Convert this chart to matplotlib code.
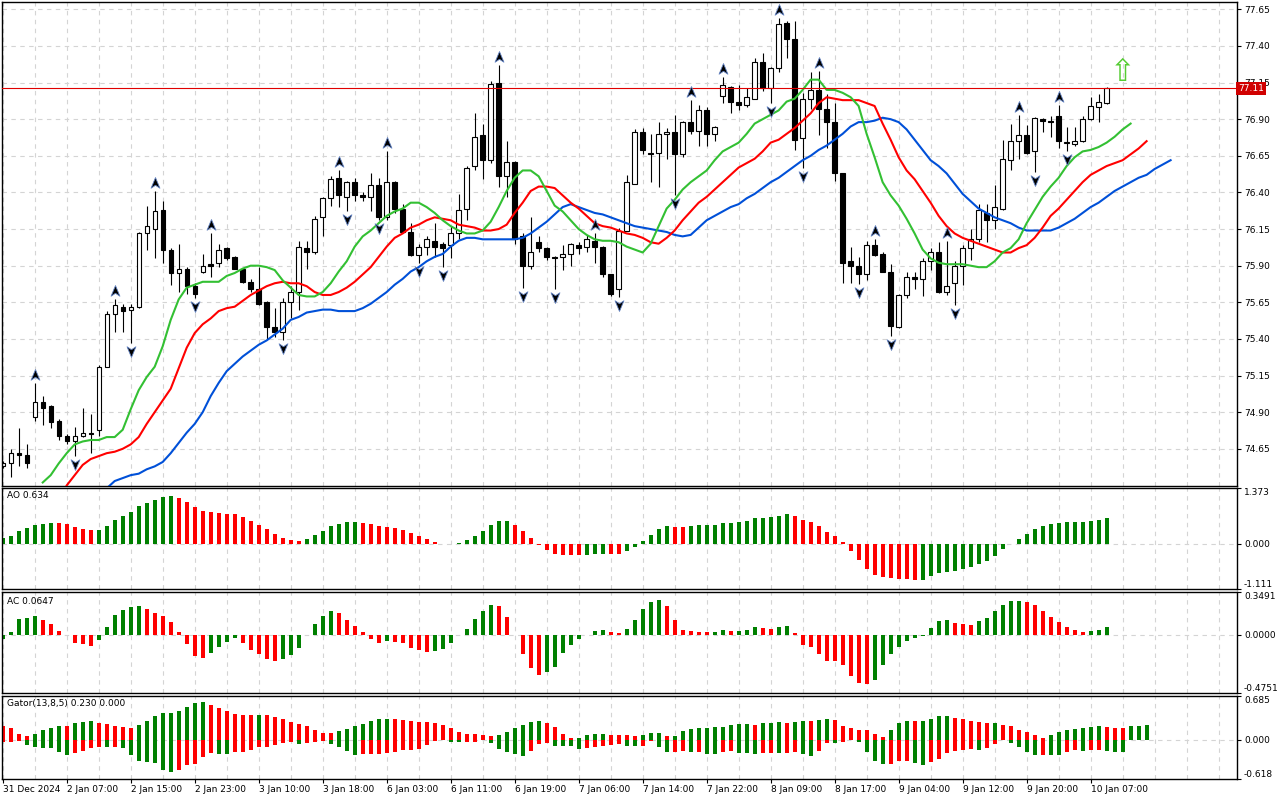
import numpy as np
import matplotlib
matplotlib.use("Agg")
import matplotlib.pyplot as plt
from matplotlib.path import Path
from matplotlib.transforms import offset_copy, blended_transform_factory

# ---------------- data (hourly candles) ----------------
opens = [74.53, 74.55, 74.62, 74.61, 74.87, 74.97, 74.94, 74.84, 74.74, 74.70,
         74.74, 74.76, 74.78, 75.21, 75.57, 75.62, 75.60, 75.62, 76.12, 76.15,
         76.28, 76.01, 75.85, 75.88, 75.76, 75.86, 75.91, 75.92, 76.02, 75.96,
         75.88, 75.79, 75.74, 75.65, 75.48, 75.45, 75.65, 75.72, 76.02, 75.99,
         76.23, 76.36, 76.50, 76.37, 76.47, 76.38, 76.37, 76.45, 76.23, 76.47,
         76.29, 76.13, 75.97, 76.03, 76.07, 76.05, 76.04, 76.12, 76.29, 76.58,
         76.79, 76.62, 77.15, 76.51, 76.61, 76.10, 75.90, 76.06, 76.02, 75.96,
         75.96, 75.98, 76.04, 76.03, 76.07, 76.03, 75.84, 75.74, 76.14, 76.46,
         76.81, 76.67, 76.67, 76.80, 76.81, 76.66, 76.88, 76.82, 76.96, 76.80,
         77.06, 77.12, 77.02, 77.00, 77.04, 77.29, 77.11, 77.25, 77.56, 77.45,
         76.77, 77.04, 77.10, 76.97, 76.88, 76.53, 75.93, 75.90, 75.84, 76.04,
         75.98, 75.86, 75.48, 75.70, 75.82, 75.81, 75.93, 75.99, 75.72, 75.78,
         75.90, 76.02, 76.08, 76.26, 76.21, 76.29, 76.62, 76.75, 76.79, 76.68,
         76.90, 76.89, 76.92, 76.74, 76.73, 76.75, 76.90, 76.98, 77.01]
highs = [74.57, 74.65, 74.79, 74.68, 75.10, 75.01, 74.95, 74.85, 74.75, 74.80,
         74.93, 74.89, 75.22, 75.59, 75.67, 75.64, 75.64, 76.13, 76.31, 76.41,
         76.34, 76.02, 76.05, 75.89, 75.78, 75.98, 76.12, 76.05, 76.03, 75.965,
         75.885, 75.81, 75.89, 75.66, 75.61, 75.68, 75.76, 76.07, 76.07, 76.24,
         76.37, 76.51, 76.55, 76.48, 76.50, 76.40, 76.53, 76.50, 76.68, 76.475,
         76.32, 76.19, 76.05, 76.10, 76.19, 76.06, 76.17, 76.39, 76.58, 76.94,
         76.87, 77.16, 77.27, 76.75, 76.615, 76.12, 76.23, 76.10, 76.025, 75.965,
         76.04, 76.055, 76.06, 76.11, 76.12, 76.035, 75.845, 76.16, 76.52, 76.83,
         76.84, 76.80, 76.88, 76.84, 76.93, 76.885, 77.03, 77.00, 76.98, 76.855,
         77.19, 77.125, 77.13, 77.11, 77.32, 77.35, 77.255, 77.59, 77.57, 77.57,
         77.08, 77.22, 77.23, 77.07, 77.01, 76.535, 76.03, 75.96, 76.07, 76.08,
         75.99, 75.91, 75.71, 75.86, 75.86, 75.95, 76.02, 76.06, 76.07, 75.93,
         76.04, 76.15, 76.32, 76.32, 76.45, 76.76, 76.87, 76.93, 76.86, 76.915,
         76.91, 76.92, 77.00, 76.85, 76.85, 76.92, 77.05, 77.07, 77.12]
lows = [74.52, 74.46, 74.53, 74.52, 74.84, 74.81, 74.79, 74.71, 74.68, 74.60,
        74.73, 74.62, 74.74, 75.21, 75.45, 75.45, 75.37, 75.61, 76.01, 75.95,
        75.92, 75.77, 75.72, 75.71, 75.68, 75.85, 75.82, 75.89, 75.94, 75.875,
        75.78, 75.72, 75.63, 75.40, 75.41, 75.39, 75.54, 75.60, 75.88, 75.98,
        76.10, 76.31, 76.30, 76.27, 76.34, 76.34, 76.27, 76.21, 76.21, 76.26,
        76.12, 75.965, 75.92, 75.97, 75.96, 75.89, 75.95, 76.08, 76.21, 76.55,
        76.49, 76.60, 76.44, 76.37, 76.05, 75.75, 75.88, 75.99, 75.94, 75.74,
        75.87, 75.90, 75.98, 75.99, 75.92, 75.82, 75.69, 75.685, 76.135, 76.455,
        76.66, 76.47, 76.44, 76.63, 76.38, 76.64, 76.80, 76.72, 76.72, 76.75,
        77.01, 76.94, 76.96, 76.98, 77.035, 77.09, 77.01, 77.22, 77.32, 76.69,
        76.565, 76.97, 76.79, 76.70, 76.48, 75.78, 75.78, 75.775, 75.80, 75.965,
        75.855, 75.42, 75.475, 75.68, 75.74, 75.69, 75.87, 75.715, 75.70, 75.63,
        75.77, 75.94, 76.06, 76.06, 76.15, 76.28, 76.55, 76.63, 76.665, 76.54,
        76.81, 76.78, 76.70, 76.68, 76.72, 76.745, 76.895, 76.88, 77.005]
closes = [74.55, 74.62, 74.61, 74.55, 74.97, 74.93, 74.83, 74.74, 74.70, 74.74,
          74.76, 74.75, 75.21, 75.57, 75.63, 75.59, 75.62, 76.12, 76.17, 76.27,
          76.01, 75.85, 75.88, 75.76, 75.71, 75.90, 75.90, 76.01, 75.95, 75.88,
          75.79, 75.74, 75.64, 75.48, 75.45, 75.65, 75.72, 76.03, 75.99, 76.22,
          76.36, 76.49, 76.38, 76.47, 76.38, 76.37, 76.45, 76.23, 76.47, 76.29,
          76.13, 75.97, 76.03, 76.08, 76.03, 76.02, 76.12, 76.28, 76.57, 76.78,
          76.62, 77.14, 76.51, 76.61, 76.08, 75.90, 75.99, 76.02, 75.96, 75.955,
          75.98, 76.05, 76.02, 76.08, 76.03, 75.84, 75.71, 76.14, 76.47, 76.81,
          76.69, 76.66, 76.80, 76.81, 76.66, 76.88, 76.82, 76.96, 76.80, 76.85,
          77.13, 77.02, 77.00, 77.05, 77.29, 77.11, 77.25, 77.55, 77.45, 76.76,
          77.04, 77.10, 76.97, 76.88, 76.53, 75.92, 75.90, 75.84, 76.04, 75.97,
          75.86, 75.49, 75.70, 75.82, 75.81, 75.93, 75.99, 75.72, 75.76, 75.90,
          76.02, 76.08, 76.28, 76.21, 76.30, 76.63, 76.75, 76.79, 76.67, 76.91,
          76.89, 76.88, 76.75, 76.745, 76.75, 76.90, 76.99, 77.02, 77.11]

# Alligator lines (already shifted forward), first bar index of each line
lips_start = 5
lips = [74.42, 74.47, 74.55, 74.62, 74.68, 74.70, 74.71, 74.71, 74.73, 74.73,
        74.78, 74.92, 75.05, 75.14, 75.21, 75.35, 75.53, 75.67, 75.75, 75.77,
        75.79, 75.79, 75.79, 75.83, 75.85, 75.88, 75.90, 75.90, 75.89, 75.87,
        75.80, 75.75, 75.70, 75.69, 75.69, 75.72, 75.78, 75.86, 75.93, 76.03,
        76.10, 76.14, 76.19, 76.24, 76.27, 76.29, 76.33, 76.33, 76.30, 76.26,
        76.21, 76.17, 76.14, 76.12, 76.12, 76.14, 76.20, 76.30, 76.41, 76.50,
        76.55, 76.55, 76.51, 76.41, 76.31, 76.27, 76.21, 76.15, 76.11, 76.08,
        76.07, 76.07, 76.06, 76.03, 76.01, 75.99, 76.05, 76.17, 76.29, 76.35,
        76.42, 76.47, 76.51, 76.55, 76.62, 76.68, 76.71, 76.74, 76.80, 76.87,
        76.90, 76.93, 76.96, 77.02, 77.04, 77.10, 77.17, 77.17, 77.10, 77.10,
        77.08, 77.05, 76.99, 76.80, 76.64, 76.47, 76.38, 76.31, 76.22, 76.12,
        76.01, 75.95, 75.92, 75.91, 75.91, 75.91, 75.90, 75.89, 75.89, 75.93,
        75.99, 76.02, 76.08, 76.19, 76.28, 76.37, 76.44, 76.50, 76.58, 76.64,
        76.68, 76.69, 76.71, 76.74, 76.78, 76.83, 76.87]
teeth_start = 8
teeth = [74.40, 74.47, 74.54, 74.58, 74.60, 74.62, 74.63, 74.65, 74.68, 74.73,
         74.82, 74.90, 74.98, 75.06, 75.20, 75.34, 75.44, 75.50, 75.54, 75.59,
         75.61, 75.62, 75.66, 75.70, 75.73, 75.76, 75.78, 75.79, 75.78, 75.78,
         75.76, 75.72, 75.70, 75.70, 75.72, 75.75, 75.79, 75.84, 75.89, 75.96,
         76.03, 76.09, 76.12, 76.16, 76.18, 76.21, 76.23, 76.22, 76.21, 76.18,
         76.17, 76.16, 76.14, 76.14, 76.15, 76.18, 76.26, 76.33, 76.41, 76.44,
         76.44, 76.43, 76.38, 76.33, 76.29, 76.24, 76.19, 76.17, 76.16, 76.14,
         76.12, 76.11, 76.09, 76.06, 76.05, 76.09, 76.14, 76.21, 76.27, 76.33,
         76.37, 76.42, 76.47, 76.52, 76.57, 76.60, 76.63, 76.68, 76.74, 76.76,
         76.80, 76.84, 76.89, 76.94, 77.01, 77.05, 77.04, 77.03, 77.03, 77.03,
         77.01, 76.99, 76.87, 76.76, 76.64, 76.55, 76.49, 76.41, 76.33, 76.24,
         76.17, 76.12, 76.09, 76.07, 76.05, 76.03, 76.01, 75.99, 75.99, 76.02,
         76.04, 76.09, 76.16, 76.24, 76.29, 76.35, 76.41, 76.47, 76.52, 76.55,
         76.58, 76.60, 76.62, 76.66, 76.70, 76.75]
jaw_start = 13
jaw = [74.38, 74.43, 74.45, 74.47, 74.48, 74.51, 74.53, 74.56, 74.62, 74.69,
       74.76, 74.82, 74.90, 75.01, 75.10, 75.18, 75.23, 75.28, 75.32, 75.36,
       75.39, 75.43, 75.47, 75.53, 75.55, 75.58, 75.59, 75.60, 75.60, 75.59,
       75.59, 75.59, 75.61, 75.64, 75.68, 75.72, 75.77, 75.81, 75.86, 75.89,
       75.93, 75.96, 75.98, 76.03, 76.07, 76.09, 76.09, 76.08, 76.08, 76.08,
       76.08, 76.08, 76.09, 76.12, 76.16, 76.20, 76.25, 76.30, 76.32, 76.30,
       76.28, 76.26, 76.25, 76.23, 76.21, 76.19, 76.17, 76.16, 76.15, 76.14,
       76.13, 76.11, 76.10, 76.11, 76.16, 76.21, 76.24, 76.27, 76.30, 76.32,
       76.36, 76.39, 76.43, 76.47, 76.50, 76.54, 76.58, 76.62, 76.65, 76.69,
       76.72, 76.76, 76.80, 76.85, 76.88, 76.88, 76.89, 76.91, 76.90, 76.88,
       76.83, 76.76, 76.69, 76.62, 76.58, 76.53, 76.46, 76.39, 76.34, 76.29,
       76.26, 76.23, 76.21, 76.19, 76.16, 76.14, 76.14, 76.14, 76.14, 76.16,
       76.19, 76.22, 76.26, 76.30, 76.33, 76.37, 76.41, 76.44, 76.47, 76.50,
       76.52, 76.56, 76.59, 76.62]

fractal_up = [4, 14, 19, 26, 42, 48, 62, 74, 86, 90, 97, 102, 109, 118, 127, 132]
fractal_down = [9, 16, 24, 35, 43, 47, 52, 55, 65, 69, 77, 84, 96, 100, 107,
                111, 119, 129, 133]
signal_index = 140
signal_price = 77.22
bid = 77.11

ao = [0.155, 0.195, 0.318, 0.399, 0.464, 0.489, 0.521, 0.515, 0.489, 0.415,
      0.375, 0.350, 0.352, 0.440, 0.595, 0.684, 0.790, 0.928, 1.002, 1.075,
      1.140, 1.165, 1.132, 1.034, 0.904, 0.814, 0.790, 0.757, 0.733, 0.725,
      0.668, 0.570, 0.464, 0.375, 0.252, 0.155, 0.106, 0.081, 0.122, 0.228,
      0.326, 0.440, 0.489, 0.538, 0.540, 0.513, 0.489, 0.440, 0.415, 0.399,
      0.342, 0.269, 0.195, 0.122, 0.049, 0.008, -0.008, 0.016, 0.098, 0.195,
      0.326, 0.464, 0.570, 0.572, 0.464, 0.318, 0.155, -0.041, -0.163, -0.261,
      -0.265, -0.285, -0.287, -0.284, -0.244, -0.240, -0.245, -0.248, -0.187, -0.073,
      0.073, 0.220, 0.366, 0.440, 0.415, 0.413, 0.440, 0.464, 0.466, 0.468,
      0.521, 0.523, 0.546, 0.570, 0.627, 0.629, 0.652, 0.676, 0.733, 0.684,
      0.595, 0.538, 0.440, 0.301, 0.195, 0.057, -0.187, -0.399, -0.611, -0.757,
      -0.814, -0.847, -0.871, -0.873, -0.900, -0.895, -0.798, -0.725, -0.692, -0.660,
      -0.611, -0.578, -0.497, -0.415, -0.293, -0.130, -0.008, 0.130, 0.244, 0.366,
      0.440, 0.489, 0.521, 0.538, 0.540, 0.542, 0.570, 0.595, 0.634]
ac = [-0.036, 0.025, 0.132, 0.137, 0.157, 0.124, 0.085, 0.033, -0.004, -0.063,
      -0.077, -0.088, -0.041, 0.066, 0.165, 0.206, 0.223, 0.231, 0.214, 0.181,
      0.157, 0.107, 0.025, -0.077, -0.170, -0.187, -0.146, -0.096, -0.055, -0.030,
      -0.063, -0.124, -0.154, -0.195, -0.212, -0.194, -0.162, -0.104, -0.003, 0.085,
      0.157, 0.190, 0.181, 0.124, 0.074, 0.019, -0.033, -0.063, -0.047, -0.058,
      -0.071, -0.104, -0.124, -0.137, -0.129, -0.113, -0.071, -0.003, 0.049, 0.132,
      0.190, 0.239, 0.237, 0.148, -0.003, -0.154, -0.269, -0.327, -0.302, -0.261,
      -0.146, -0.080, -0.038, -0.002, 0.033, 0.041, 0.025, 0.011, 0.049, 0.124,
      0.214, 0.264, 0.280, 0.231, 0.124, 0.041, 0.033, 0.025, 0.024, 0.026,
      0.041, 0.033, 0.034, 0.041, 0.066, 0.058, 0.049, 0.066, 0.074, 0.016,
      -0.080, -0.096, -0.154, -0.212, -0.213, -0.245, -0.335, -0.393, -0.401, -0.368,
      -0.245, -0.154, -0.096, -0.047, -0.030, -0.011, 0.058, 0.115, 0.124, 0.099,
      0.091, 0.082, 0.115, 0.140, 0.198, 0.239, 0.272, 0.273, 0.264, 0.239,
      0.198, 0.148, 0.107, 0.066, 0.041, 0.025, 0.033, 0.041, 0.0647]
gator_up = [0.210, 0.184, 0.095, 0.063, 0.084, 0.147, 0.179, 0.210, 0.208, 0.257,
            0.273, 0.289, 0.257, 0.242, 0.210, 0.205, 0.179, 0.226, 0.289, 0.368,
            0.415, 0.420, 0.447, 0.510, 0.573, 0.588, 0.541, 0.494, 0.447, 0.399,
            0.386, 0.382, 0.385, 0.380, 0.352, 0.320, 0.273, 0.242, 0.210, 0.147,
            0.100, 0.098, 0.131, 0.163, 0.210, 0.242, 0.289, 0.320, 0.323, 0.320,
            0.305, 0.289, 0.273, 0.270, 0.257, 0.226, 0.179, 0.116, 0.084, 0.082,
            0.068, 0.053, 0.068, 0.116, 0.179, 0.226, 0.273, 0.289, 0.257, 0.194,
            0.084, 0.021, 0.023, 0.068, 0.084, 0.086, 0.070, 0.068, 0.066, 0.053,
            0.068, 0.100, 0.102, 0.053, 0.060, 0.131, 0.163, 0.179, 0.181, 0.194,
            0.196, 0.226, 0.242, 0.243, 0.226, 0.257, 0.259, 0.273, 0.257, 0.273,
            0.289, 0.287, 0.305, 0.320, 0.305, 0.210, 0.179, 0.147, 0.145, 0.084,
            0.037, 0.147, 0.257, 0.289, 0.287, 0.290, 0.320, 0.368, 0.370, 0.336,
            0.320, 0.289, 0.273, 0.257, 0.259, 0.226, 0.210, 0.147, 0.116, 0.068,
            0.021, 0.068, 0.116, 0.147, 0.163, 0.179, 0.194, 0.210, 0.194, 0.179,
            0.177, 0.210, 0.212, 0.230]
gator_down = [-0.037, -0.036, -0.021, -0.084, -0.116, -0.131, -0.133, -0.194, -0.242, -0.210,
              -0.179, -0.131, -0.116, -0.118, -0.116, -0.131, -0.242, -0.336, -0.352, -0.368,
              -0.478, -0.510, -0.478, -0.405, -0.389, -0.273, -0.210, -0.226, -0.228, -0.194,
              -0.192, -0.163, -0.116, -0.115, -0.084, -0.053, -0.037, -0.068, -0.053, -0.037,
              -0.021, -0.068, -0.116, -0.179, -0.242, -0.226, -0.225, -0.224, -0.210, -0.200,
              -0.168, -0.167, -0.147, -0.084, -0.021, -0.005, -0.037, -0.038, -0.036, -0.035,
              -0.005, -0.053, -0.147, -0.194, -0.226, -0.257, -0.179, -0.068, -0.053, -0.100,
              -0.102, -0.104, -0.147, -0.131, -0.116, -0.100, -0.084, -0.068, -0.100, -0.102,
              -0.100, -0.020, -0.116, -0.194, -0.192, -0.179, -0.194, -0.190, -0.226, -0.228,
              -0.194, -0.179, -0.210, -0.212, -0.226, -0.210, -0.208, -0.210, -0.208, -0.194,
              -0.226, -0.257, -0.179, -0.053, -0.055, -0.037, -0.005, -0.037, -0.194, -0.336,
              -0.384, -0.382, -0.336, -0.334, -0.368, -0.399, -0.352, -0.305, -0.210, -0.179,
              -0.163, -0.147, -0.163, -0.131, -0.068, -0.005, -0.053, -0.116, -0.194, -0.242,
              -0.240, -0.243, -0.245, -0.194, -0.163, -0.179, -0.163, -0.161, -0.179, -0.194,
              -0.196, -0.010, -0.005, 0.0]

price_ticks = [77.65, 77.40, 77.15, 76.90, 76.65, 76.40, 76.15, 75.90, 75.65,
               75.40, 75.15, 74.90, 74.65]
price_range = (74.396, 77.70)
ao_range = (-1.111, 1.373)
ac_range = (-0.4751, 0.3491)
gator_range = (-0.618, 0.685)
time_labels = ["31 Dec 2024", "2 Jan 07:00", "2 Jan 15:00", "2 Jan 23:00",
               "3 Jan 10:00", "3 Jan 18:00", "6 Jan 03:00", "6 Jan 11:00",
               "6 Jan 19:00", "7 Jan 06:00", "7 Jan 14:00", "7 Jan 22:00",
               "8 Jan 09:00", "8 Jan 17:00", "9 Jan 04:00", "9 Jan 12:00",
               "9 Jan 20:00", "10 Jan 07:00"]
label_step = 8

# ---------------- figure ----------------
GREEN = "#008000"
RED = "#ff0000"
GRID = "#d4d4d4"
FS = 6.5

fig = plt.figure(figsize=(12.8, 8), dpi=100)
W, H = 1280.0, 800.0


def box(x0, y0, x1, y1):
    return [x0 / W, 1 - y1 / H, (x1 - x0) / W, (y1 - y0) / H]


ax = fig.add_axes(box(2, 2, 1237, 486))
ax_ao = fig.add_axes(box(2, 488, 1237, 589), sharex=ax)
ax_ac = fig.add_axes(box(2, 592, 1237, 693), sharex=ax)
ax_g = fig.add_axes(box(2, 696, 1237, 779), sharex=ax)
axes = [ax, ax_ao, ax_ac, ax_g]
for a in axes:
    a.yaxis.tick_right()

o = np.array(opens)
h = np.array(highs)
l = np.array(lows)
c = np.array(closes)
x = np.arange(len(c))

# candles
ax.vlines(x, l, h, color="black", lw=0.8, zorder=2)
up = c >= o
body_lo = np.minimum(o, c)
body_h = np.maximum(np.abs(c - o), 0.003)
ax.bar(x, body_h, bottom=body_lo, width=0.55,
       color=np.where(up, "white", "black"), edgecolor="black",
       linewidth=0.8, zorder=2.5)

# alligator
ax.plot(np.arange(jaw_start, jaw_start + len(jaw)), jaw, color="#0050d8", lw=1.5, zorder=3)
ax.plot(np.arange(teeth_start, teeth_start + len(teeth)), teeth, color="#ff0000", lw=1.5, zorder=3)
ax.plot(np.arange(lips_start, lips_start + len(lips)), lips, color="#33c033", lw=1.5, zorder=3)

# fractals
arrow_up = Path([(0, 1), (0.75, -0.8), (0, -0.3), (-0.75, -0.8), (0, 1)],
                [Path.MOVETO, Path.LINETO, Path.LINETO, Path.LINETO, Path.CLOSEPOLY])
arrow_dn = Path([(0, -1), (0.75, 0.8), (0, 0.3), (-0.75, 0.8), (0, -1)],
                [Path.MOVETO, Path.LINETO, Path.LINETO, Path.LINETO, Path.CLOSEPOLY])
tr_up = offset_copy(ax.transData, fig=fig, y=8, units="dots")
tr_dn = offset_copy(ax.transData, fig=fig, y=-8, units="dots")
ax.plot(fractal_up, h[fractal_up], ls="none", marker=arrow_up, ms=8.5,
        mfc="black", mec="#6080c0", mew=0.6, transform=tr_up, zorder=4)
ax.plot(fractal_down, l[fractal_down], ls="none", marker=arrow_dn, ms=8.5,
        mfc="black", mec="#6080c0", mew=0.6, transform=tr_dn, zorder=4)

# signal arrow and bid line
ax.text(signal_index, signal_price, "\u21e7", color="#55cc33", fontsize=22,
        ha="center", va="center", zorder=4)
ax.axhline(bid, color="#e00000", lw=0.8, zorder=3.5)
ax.text(1.001, bid, "%.2f" % bid, transform=blended_transform_factory(ax.transAxes, ax.transData),
        color="white", fontsize=FS, ha="left", va="center", zorder=6,
        bbox=dict(boxstyle="square,pad=0.2", fc="#d00000", ec="none"), clip_on=False)

ax.set_ylim(*price_range)
ax.set_yticks(price_ticks)
ax.set_yticklabels(["%.2f" % p for p in price_ticks])


def step_colors(vals, first, use_abs=False):
    v = np.array(vals)
    if use_abs:
        v = np.abs(v)
    cols = [first]
    for i in range(1, len(v)):
        cols.append(GREEN if v[i] > v[i - 1] else RED)
    return cols


ax_ao.bar(np.arange(len(ao)), ao, width=0.5, color=step_colors(ao, GREEN), zorder=2)
ax_ac.bar(np.arange(len(ac)), ac, width=0.5, color=step_colors(ac, GREEN), zorder=2)
ax_g.bar(np.arange(len(gator_up)), gator_up, width=0.5,
         color=step_colors(gator_up, RED, True), zorder=2)
ax_g.bar(np.arange(len(gator_down)), gator_down, width=0.5,
         color=step_colors(gator_down, RED, True), zorder=2)

for a, rng, fmt, name in [(ax_ao, ao_range, "%.3f", "AO %.3f" % ao[-1]),
                          (ax_ac, ac_range, "%.4f", "AC %.4f" % ac[-1]),
                          (ax_g, gator_range, "%.3f",
                           "Gator(13,8,5) %.3f %.3f" % (gator_up[-1], abs(gator_down[-1])))]:
    a.set_ylim(*rng)
    a.axhline(0, color=GRID, lw=0.8, ls=(0, (4, 4)), zorder=1)
    a.set_yticks([rng[1], 0, rng[0]])
    a.set_yticklabels([fmt % rng[1], fmt % 0, fmt % rng[0]])
    ticks = a.yaxis.get_major_ticks()
    ticks[0].label2.set_va("top")
    ticks[2].label2.set_va("bottom")
    a.text(0.004, 0.93 if a is ax_ao else 0.905, name, transform=a.transAxes,
           fontsize=FS, va="center", ha="left")

# shared x axis: grid every 4 bars, labels every 8
ax.set_xlim(-0.09, 154.3)
label_pos = np.arange(len(time_labels)) * label_step
ax_g.set_xticks(label_pos)
ax_g.set_xticks(np.arange(0, 156, 4), minor=True)
ax_g.set_xticklabels(time_labels)
for t in ax_g.get_xticklabels():
    t.set_ha("left")

for a in axes:
    a.set_axisbelow(True)
    a.grid(axis="x", which="both", color=GRID, lw=0.8, ls=(0, (4, 4)))
    a.tick_params(axis="y", which="both", labelsize=FS, length=3, width=0.8,
                  direction="out", pad=2, left=False)
    a.tick_params(axis="x", which="minor", length=0)
    for s in a.spines.values():
        s.set_linewidth(1.0)
        s.set_color("black")
ax.grid(axis="y", color=GRID, lw=0.8, ls=(0, (4, 4)))
for a in [ax, ax_ao, ax_ac]:
    a.tick_params(axis="x", which="both", length=0, labelbottom=False)
ax_g.tick_params(axis="x", which="major", length=3, width=0.8, labelsize=FS, pad=1)

fig.savefig("out.png", dpi=100, facecolor="white")
